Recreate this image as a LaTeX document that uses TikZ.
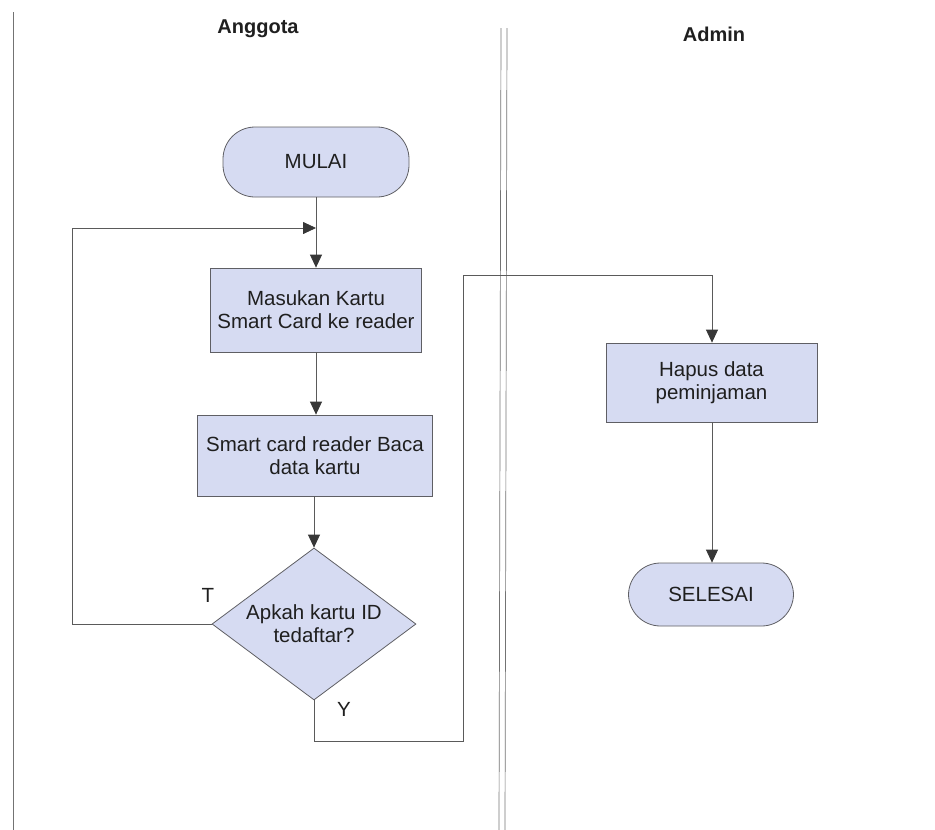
\documentclass[tikz,border=0pt]{standalone}
\usepackage{fontspec}
\setmainfont{Liberation Sans}
\usetikzlibrary{shapes.geometric,arrows.meta}
\definecolor{boxfill}{RGB}{214,219,242}
\definecolor{boxline}{RGB}{95,95,100}
\definecolor{wire}{RGB}{90,90,90}
\definecolor{tip}{RGB}{55,55,55}
\tikzset{
  txt/.style={font=\fontsize{20.5}{23}\selectfont, text=black!88, align=center},
  proc/.style={txt, draw=boxline, fill=boxfill, line width=0.8pt, inner sep=0pt},
  term/.style={proc, rounded corners=32pt},
  decision/.style={txt, diamond, draw=boxline, fill=boxfill, line width=0.8pt,
    inner sep=0pt, minimum width=204pt, minimum height=152pt, aspect=1.34},
  wireline/.style={draw=wire, line width=0.8pt},
  arr/.style={wireline, -{Triangle[length=13pt,width=12pt,fill=tip,color=tip]}},
  lane/.style={draw=black!55, line width=0.7pt},
  head/.style={font=\fontsize{20}{23}\selectfont\bfseries, text=black!88}
}
\begin{document}
\begin{tikzpicture}[x=1pt,y=-1pt]
  \useasboundingbox (0,0) rectangle (935,830);

  % swimlane borders
  \draw[lane] (13,12) -- (13,830);
  \draw[lane] (501,28) -- (499,830);
  \draw[lane] (507,28) -- (505,830);

  % lane headings
  \node[head] (hAnggota) at (258,29) {Anggota};
  \node[head] (hAdmin) at (714,34) {Admin};

  % Anggota lane
  \node[term, minimum width=186pt, minimum height=70pt] (mulai) at (316,162) {MULAI};
  \node[proc, minimum width=211pt, minimum height=84pt] (masuk) at (316,310)
    {Masukan Kartu\\Smart Card ke reader};
  \node[proc, minimum width=235pt, minimum height=81pt] (baca) at (315,455.5)
    {Smart card reader Baca\\data kartu};
  \node[decision] (cek) at (314,624) {Apkah kartu ID\\tedaftar?};

  % Admin lane
  \node[proc, minimum width=211pt, minimum height=79pt] (hapus) at (711.5,382.5)
    {Hapus data\\peminjaman};
  \node[term, minimum width=165pt, minimum height=63pt] (selesai) at (711,594.5) {SELESAI};

  % branch labels
  \node[txt] (lblT) at (208,595) {T};
  \node[txt] (lblY) at (344,709) {Y};

  % routing points
  \coordinate (join) at (316,228);
  \coordinate (loopL) at (72,228);
  \coordinate (yLow) at (463,741);
  \coordinate (yTop) at (712,275);

  % connectors
  \draw[arr] (mulai.south) -- (masuk.north);
  \draw[arr] (masuk.south) -- (masuk.south |- baca.north);
  \draw[arr] (baca.south -| cek.north) -- (cek.north);
  \draw[arr] (cek.west) -| (loopL) -- (join);
  \draw[arr] (cek.south) |- (yLow) |- (yTop) -- (hapus.north -| yTop);
  \draw[arr] (hapus.south -| yTop) -- (selesai.north -| yTop);
\end{tikzpicture}
\end{document}
